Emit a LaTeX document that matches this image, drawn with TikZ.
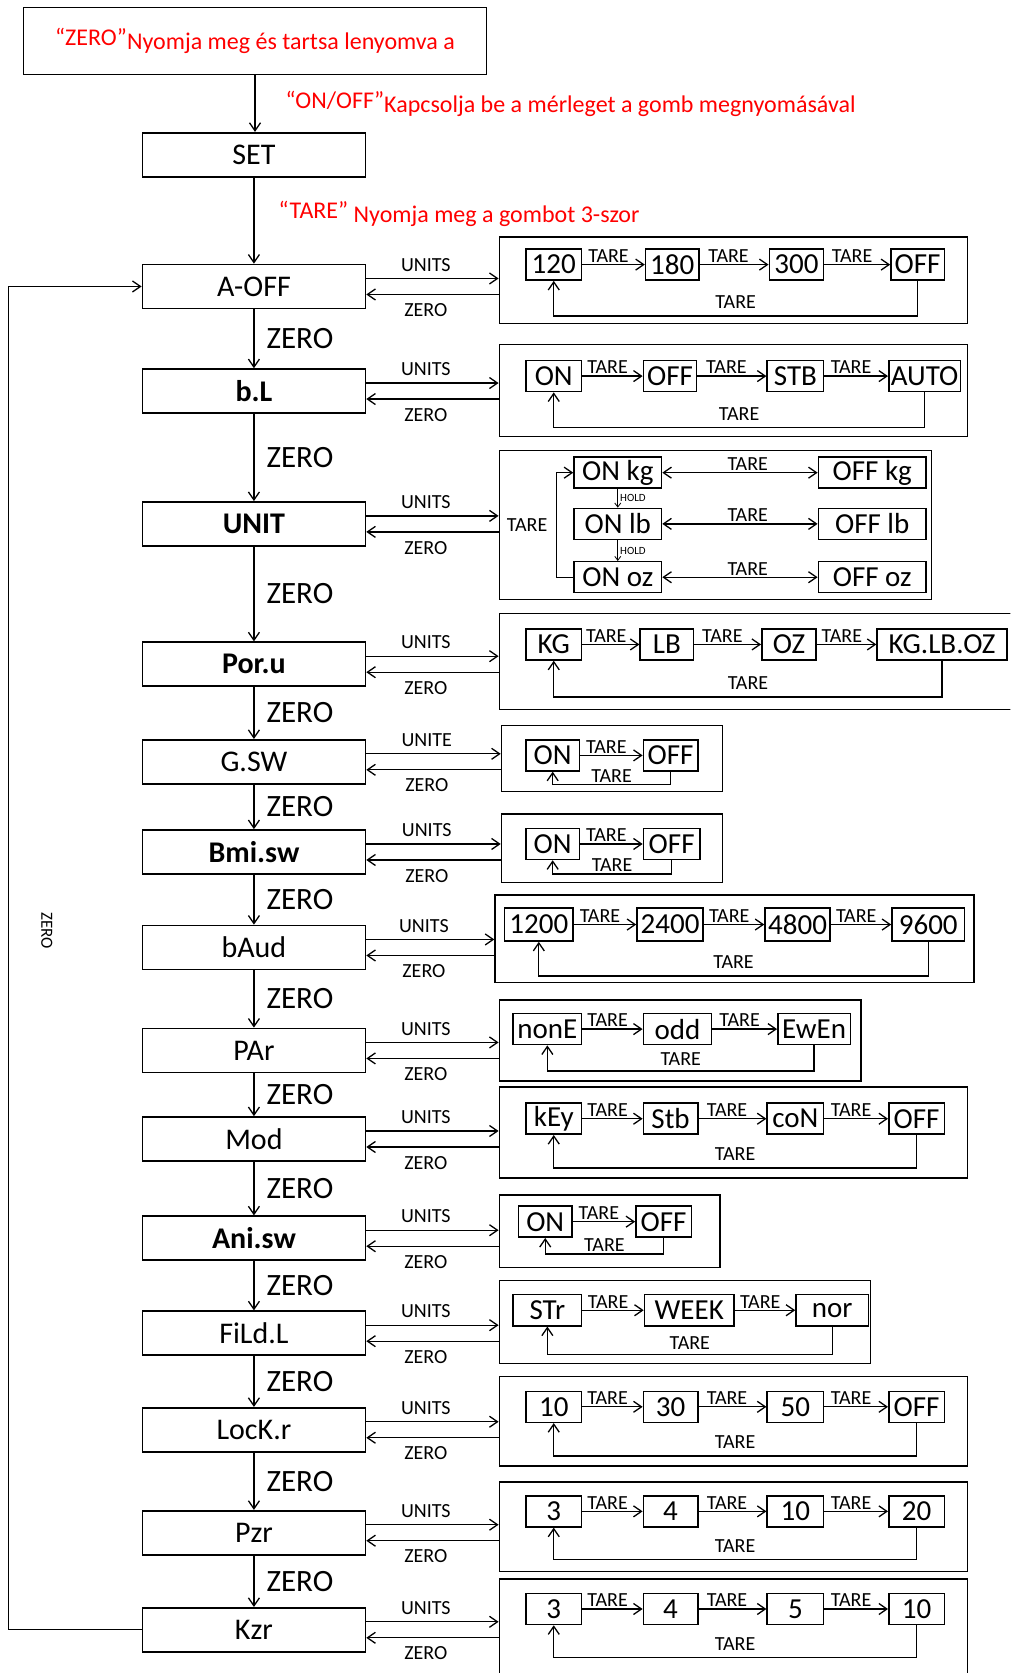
\documentclass[tikz,border=0pt]{standalone}
\usepackage{fontspec}
\setmainfont{Carlito}
\usetikzlibrary{arrows.meta,fit}

\tikzset{
  menubox/.style={draw, line width=1.6pt, minimum width=223pt, minimum height=44pt,
    inner sep=0pt, font=\fontsize{30}{32}\selectfont},
  notebox/.style={draw, line width=1.6pt, minimum width=463pt, minimum height=67pt,
    text=red, font=\fontsize{24}{26}\selectfont},
  optbox/.style={draw, line width=1.5pt, inner sep=0pt},
  statebox/.style={draw, line width=1.5pt, minimum width=55pt, minimum height=31pt,
    inner sep=2pt, font=\fontsize{29}{30}\selectfont},
  arr/.style={->, line width=1.3pt},
  holdarr/.style={-{Straight Barb[length=4pt,width=6pt]}, line width=0.8pt},
  lbl/.style={font=\fontsize{20}{21}\selectfont, inner sep=1.5pt},
  tare/.style={lbl, above, pos=.42},
  hold/.style={font=\fontsize{11}{12}\selectfont, right, inner sep=2pt},
  zerolbl/.style={font=\fontsize{31}{33}\selectfont, right=12pt, inner sep=0pt},
  redlbl/.style={text=red, font=\fontsize{24}{26}\selectfont, inner sep=0pt},
}

\begin{document}
\begin{tikzpicture}[x=1.0665pt, y=-1.0665pt, >={Straight Barb[length=8pt,width=11pt]}]
  % Page frame
  \path[use as bounding box, fill=white] (0,0) rectangle (947,1568);
  \clip (0,0) rectangle (947,1568);

  % Start note and SET
  \node[notebox] (topbox) at (239,38.5) {\raisebox{4pt}{“ZERO”}Nyomja meg és tartsa lenyomva a};
  \node[menubox] (set) at (238,145) {SET};
  \draw[arr] (topbox.south) -- (topbox.south |- set.north)
    node[redlbl, midway, right=30pt] {\raisebox{4pt}{“ON/OFF”}Kapcsolja be a mérleget a gomb megnyomásával};

  % Menu column
  \foreach \name/\y/\txt in {m1/268.5/A-OFF, m2/366.5/\textbf{b.L}, m3/491/\textbf{UNIT},
      m4/622.5/\textbf{Por.u}, m5/714/G.SW, m6/798.5/\textbf{Bmi.sw}, m7/888/bAud,
      m8/984.5/PAr, m9/1067.5/Mod, m10/1160.5/\textbf{Ani.sw}, m11/1249.5/FiLd.L,
      m12/1340/LocK.r, m13/1436.5/Pzr, m14/1527.5/Kzr}
    \node[menubox] (\name) at (238,\y) {\txt};

  \draw[arr] (set) -- node[redlbl, right=24pt, pos=.42] {\raisebox{4pt}{“TARE”} Nyomja meg a gombot 3-szor} (m1);

  \foreach \a/\b in {m1/m2, m2/m3, m3/m4, m4/m5, m5/m6, m6/m7, m7/m8, m8/m9,
      m9/m10, m10/m11, m11/m12, m12/m13, m13/m14}
    \draw[arr] (\a) -- node[zerolbl] {ZERO} (\b);

  % Back to A-OFF
  \draw[arr] (m14.west) -- ++(-124.5,0) |- (m1.west);
  \node[font=\fontsize{17}{18}\selectfont, rotate=-90] (backzero) at (44,872) {ZERO};

  % Option frames
  \foreach \i/\xa/\ya/\xb/\yb in {1/468/222/907/303, 2/468/323/907/409, 3/468/422/873/562,
      4/468/575/980/665, 5/470/680/677/742, 6/470/763/677/827, 7/464/839/913/921,
      8/468/937/807/1013, 9/468/1019/907/1104, 10/468/1120/675/1188, 11/468/1200/816/1278,
      12/468/1290/907/1374, 13/468/1389/907/1473, 14/468/1480/907/1600}
    \node[optbox, fit={(\xa,\ya) (\xb,\yb)}] (o\i) {};

  % UNITS in, ZERO out
  \foreach \i/\u in {1/UNITS, 2/UNITS, 3/UNITS, 4/UNITS, 5/UNITE, 6/UNITS, 7/UNITS,
      8/UNITS, 9/UNITS, 10/UNITS, 11/UNITS, 12/UNITS, 13/UNITS, 14/UNITS}{
    \coordinate (in\i) at ([yshift=8pt]m\i.east);
    \coordinate (out\i) at ([yshift=-8pt]m\i.east);
    \draw[arr] (in\i) -- (in\i -| o\i.west) node[lbl, pos=.45, above=5pt] {\u};
    \draw[arr] (out\i -| o\i.west) -- (out\i) node[lbl, pos=.55, below=7pt] {ZERO};
  }

  % A-OFF
  \foreach \n/\x/\w/\t in {1/519/55.5/120, 2/630/53.3/180, 3/746.5/54.4/300, 4/860/53.3/OFF}
    \node[statebox, minimum width=\w pt] (a\n) at (\x,248) {\t};
  \foreach \p/\q in {a1/a2, a2/a3, a3/a4}
    \draw[arr] (\p) -- node[tare] {TARE} (\q);
  \draw[arr] (a4.south) -- ++(0,33) -| node[tare, pos=.25, above=5pt] {TARE} (a1.south);

  % b.L
  \foreach \n/\x/\w/\t in {1/519/55.5/ON, 2/628/53.3/OFF, 3/745.5/56.5/STB, 4/866.5/71.5/AUTO}
    \node[statebox, minimum width=\w pt] (b\n) at (\x,352.5) {\t};
  \foreach \p/\q in {b1/b2, b2/b3, b3/b4}
    \draw[arr] (\p) -- node[tare] {TARE} (\q);
  \draw[arr] (b4.south) -- ++(0,33) -| node[tare, pos=.25, above=5pt] {TARE} (b1.south);

  % UNIT
  \foreach \n/\x/\y/\w/\t in {1/579/443/87.5/ON kg, 2/579/491/87.5/ON lb, 3/579/541/87.5/ON oz,
      4/817.5/443/107.7/OFF kg, 5/817.5/491/107.7/OFF lb, 6/817.5/541/107.7/OFF oz}
    \node[statebox, minimum width=\w pt] (u\n) at (\x,\y) {\t};
  \foreach \p/\q in {u1/u4, u2/u5, u3/u6}
    \draw[arr, <->] (\p) -- node[tare, pos=.55] {TARE} (\q);
  \foreach \p/\q in {u1/u2, u2/u3}
    \draw[holdarr] (\p) -- node[hold] {HOLD} (\q);
  \draw[arr] (u3.west) -- ++(-16,0) |- (u1.west);
  \node[lbl] (utare) at (494,492) {TARE};

  % Por.u
  \foreach \n/\x/\w/\t in {1/519/55.5/KG, 2/625/53.3/LB, 3/739.5/54.4/OZ, 4/883/130/KG.LB.OZ}
    \node[statebox, minimum width=\w pt] (p\n) at (\x,604) {\t};
  \foreach \p/\q in {p1/p2, p2/p3, p3/p4}
    \draw[arr] (\p) -- node[tare] {TARE} (\q);
  \draw[arr] (p4.south) -- ++(0,34) -| node[tare, pos=.25, above=5pt] {TARE} (p1.south);

  % G.SW
  \node[statebox, minimum width=53.3pt] (g1) at (518,708) {ON};
  \node[statebox, minimum width=54.4pt] (g2) at (628.5,708) {OFF};
  \draw[arr] (g1) -- node[tare] {TARE} (g2);
  \draw[arr] (g2.south) -- ++(0,12) -| node[tare, pos=.25] {TARE} (g1.south);

  % Bmi.sw
  \node[statebox, minimum width=53.3pt] (bm1) at (518,791) {ON};
  \node[statebox, minimum width=56.5pt] (bm2) at (629.5,791) {OFF};
  \draw[arr] (bm1) -- node[tare] {TARE} (bm2);
  \draw[arr] (bm2.south) -- ++(0,13) -| node[tare, pos=.25] {TARE} (bm1.south);

  % bAud
  \foreach \n/\x/\w/\t in {1/505/68.3/1200, 2/628/66.1/2400, 3/747.5/65/4800, 4/870/72.5/9600}
    \node[statebox, minimum width=\w pt, minimum height=33pt] (bd\n) at (\x,866.5) {\t};
  \foreach \p/\q in {bd1/bd2, bd2/bd3, bd3/bd4}
    \draw[arr] (\p) -- node[tare] {TARE} (\q);
  \draw[arr] (bd4.south) -- ++(0,32) -| node[tare, pos=.25, above=5pt] {TARE} (bd1.south);

  % PAr
  \foreach \n/\x/\w/\t in {1/513/68.3/nonE, 2/635/68.3/odd, 3/763/72.5/EwEn}
    \node[statebox, minimum width=\w pt] (pa\n) at (\x,964.5) {\t};
  \foreach \p/\q in {pa1/pa2, pa2/pa3}
    \draw[arr] (\p) -- node[tare] {TARE} (\q);
  \draw[arr] (pa3.south) -- ++(0,24) -| node[tare, pos=.25, above=3pt] {TARE} (pa1.south);

  % Mod
  \foreach \n/\x/\w/\t in {1/519/55.5/kEy, 2/628.5/54.4/Stb, 3/745.5/56.5/coN, 4/859/55.5/OFF}
    \node[statebox, minimum width=\w pt] (md\n) at (\x,1048.5) {\t};
  \foreach \p/\q in {md1/md2, md2/md3, md3/md4}
    \draw[arr] (\p) -- node[tare] {TARE} (\q);
  \draw[arr] (md4.south) -- ++(0,31) -| node[tare, pos=.25, above=5pt] {TARE} (md1.south);

  % Ani.sw
  \node[statebox, minimum width=53.3pt] (an1) at (511,1145) {ON};
  \node[statebox, minimum width=55.5pt] (an2) at (622,1145) {OFF};
  \draw[arr] (an1) -- node[tare] {TARE} (an2);
  \draw[arr] (an2.south) -- ++(0,15) -| node[tare, pos=.25] {TARE} (an1.south);

  % FiLd.L
  \foreach \n/\x/\w/\t in {1/513/68.3/STr, 2/646/89.6/WEEK, 3/780/72.5/nor}
    \node[statebox, minimum width=\w pt] (fl\n) at (\x,1228) {\t};
  \foreach \p/\q in {fl1/fl2, fl2/fl3}
    \draw[arr] (\p) -- node[tare] {TARE} (\q);
  \draw[arr] (fl3.south) -- ++(0,26) -| node[tare, pos=.25, above=3pt] {TARE} (fl1.south);

  % LocK.r
  \foreach \n/\x/\w/\t in {1/519/55.5/10, 2/628.5/54.4/30, 3/745.5/56.5/50, 4/859/55.5/OFF}
    \node[statebox, minimum width=\w pt] (lk\n) at (\x,1318.5) {\t};
  \foreach \p/\q in {lk1/lk2, lk2/lk3, lk3/lk4}
    \draw[arr] (\p) -- node[tare] {TARE} (\q);
  \draw[arr] (lk4.south) -- ++(0,31) -| node[tare, pos=.25, above=5pt] {TARE} (lk1.south);

  % Pzr
  \foreach \n/\x/\w/\t in {1/519/55.5/3, 2/628.5/54.4/4, 3/745.5/56.5/10, 4/859/55.5/20}
    \node[statebox, minimum width=\w pt] (pz\n) at (\x,1416.5) {\t};
  \foreach \p/\q in {pz1/pz2, pz2/pz3, pz3/pz4}
    \draw[arr] (\p) -- node[tare] {TARE} (\q);
  \draw[arr] (pz4.south) -- ++(0,30) -| node[tare, pos=.25, above=5pt] {TARE} (pz1.south);

  % Kzr
  \foreach \n/\x/\w/\t in {1/519/55.5/3, 2/628.5/54.4/4, 3/745.5/56.5/5, 4/859/55.5/10}
    \node[statebox, minimum width=\w pt] (kz\n) at (\x,1508) {\t};
  \foreach \p/\q in {kz1/kz2, kz2/kz3, kz3/kz4}
    \draw[arr] (\p) -- node[tare] {TARE} (\q);
  \draw[arr] (kz4.south) -- ++(0,30) -| node[tare, pos=.25, above=5pt] {TARE} (kz1.south);
\end{tikzpicture}
\end{document}
